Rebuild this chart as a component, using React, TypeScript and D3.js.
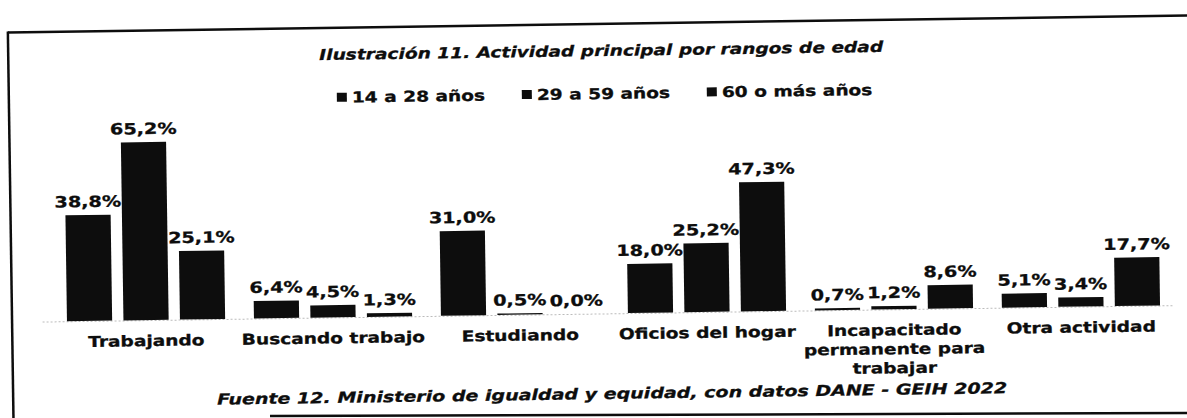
import React from 'react';
import * as d3 from 'd3';

// chart data
const categories = [
  'Trabajando',
  'Buscando trabajo',
  'Estudiando',
  'Oficios del hogar',
  'Incapacitado permanente para trabajar',
  'Otra actividad',
];
const categoryLines = [
  ['Trabajando'],
  ['Buscando trabajo'],
  ['Estudiando'],
  ['Oficios del hogar'],
  ['Incapacitado', 'permanente para', 'trabajar'],
  ['Otra actividad'],
];
const series = ['14 a 28 años', '29 a 59 años', '60 o más años'];
const values14to28 = [38.8, 6.4, 31.0, 18.0, 0.7, 5.1];
const values29to59 = [65.2, 4.5, 0.5, 25.2, 1.2, 3.4];
const values60plus = [25.1, 1.3, 0.0, 47.3, 8.6, 17.7];

const titleText = 'Ilustración 11. Actividad principal por rangos de edad';
const sourceText = 'Fuente 12. Ministerio de igualdad y equidad, con datos DANE - GEIH 2022';

const W = 1187;
const H = 418;
const FONT = '"DejaVu Sans", Verdana, sans-serif';
const INK = '#0d0d0d';
const SX = 1.24; // the scan is stretched horizontally

const locale = d3.formatLocale({ decimal: ',', thousands: '.', grouping: [3], currency: ['', ''] });
const fmt = locale.format('.1f');

const Txt = ({ x, y, size, italic = false, anchor = 'middle', sx = SX, children }: any) => (
  <text
    transform={`translate(${x},${y}) scale(${sx},1)`}
    fontFamily={FONT}
    fontSize={size}
    fontWeight="bold"
    fontStyle={italic ? 'italic' : 'normal'}
    textAnchor={anchor}
    fill={INK}
    stroke={INK}
    strokeWidth={0.3}
  >
    {children}
  </text>
);

export default function App() {
  const baseY = 313.5;
  const seriesValues = [values14to28, values29to59, values60plus];

  const x0 = d3.scaleBand<string>().domain(categories).range([52.5, 1174.5]);
  const x1 = d3
    .scaleBand<string>()
    .domain(series)
    .range([0, x0.bandwidth()])
    .paddingInner(0.2)
    .paddingOuter(0.255);
  const y = d3.scaleLinear().domain([0, 70]).range([baseY, baseY - 70 * 2.73]);

  return (
    <svg
      width={W}
      height={H}
      style={{ position: 'absolute', left: 0, top: 0, background: '#fff' }}
    >
      <rect width={W} height={H} fill="#fff" />
      <g transform="rotate(-0.83 600 313)">
        {/* frame */}
        <line x1={12} y1={24} x2={W + 20} y2={24} stroke={INK} strokeWidth={2.5} />
        <line x1={12} y1={23} x2={12} y2={H + 20} stroke={INK} strokeWidth={2.5} />

        <Txt x={605} y={56} size={15} italic>
          {titleText}
        </Txt>

        {/* legend */}
        {series.map((s, i) => (
          <g key={s}>
            <rect x={340 + i * 185} y={89} width={10} height={9} fill={INK} />
            <Txt x={355 + i * 185} y={99} size={15} anchor="start">
              {s}
            </Txt>
          </g>
        ))}

        {/* baseline */}
        <line
          x1={x0.range()[0] - 10}
          x2={x0.range()[1]}
          y1={baseY + 0.5}
          y2={baseY + 0.5}
          stroke="#bbb"
          strokeWidth={1}
          strokeDasharray="2 2"
        />

        {categories.map((c, ci) => (
          <g key={c} transform={`translate(${x0(c)},0)`}>
            {series.map((s, si) => {
              const v = seriesValues[si][ci];
              const bx = x1(s) as number;
              const bw = x1.bandwidth();
              return (
                <g key={s}>
                  <rect x={bx} y={y(v)} width={bw} height={baseY - y(v)} fill={INK} />
                  <Txt x={bx + bw / 2} y={y(v) - 8} size={15.5}>
                    {fmt(v) + '%'}
                  </Txt>
                </g>
              );
            })}
            {categoryLines[ci].map((line, li) => (
              <Txt key={li} x={x0.bandwidth() / 2} y={baseY + 26 + li * 19} size={15}>
                {line}
              </Txt>
            ))}
          </g>
        ))}

        <Txt x={611} y={399} size={15} italic sx={1.27}>
          {sourceText}
        </Txt>
      </g>
      <line x1={270} y1={416} x2={W} y2={413} stroke={INK} strokeWidth={2.5} />
    </svg>
  );
}
